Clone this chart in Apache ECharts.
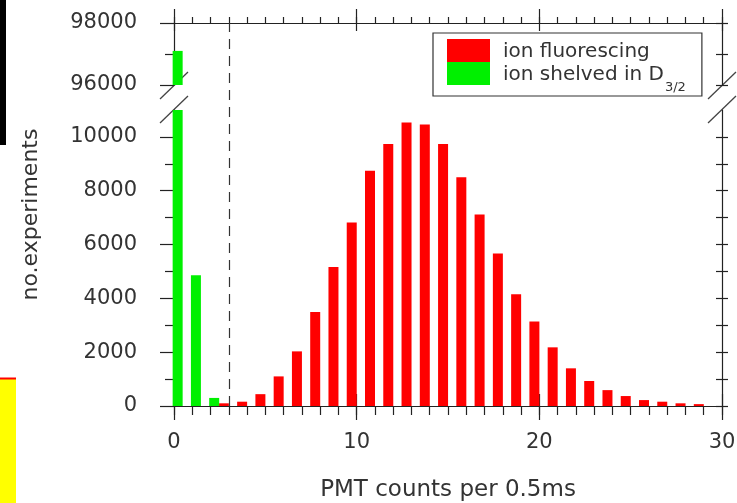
<!DOCTYPE html>
<html><head><meta charset="utf-8">
<script src="https://cdn.jsdelivr.net/npm/echarts@6/dist/echarts.min.js"></script>
<style>html,body{margin:0;padding:0;background:#fff}#c{width:737px;height:503px}</style>
</head><body><div id="c"></div>
<script>
// ---- data ----
const greenCounts = [0, 1, 2];
const greenValues = [97100, 4860, 300];
const redCounts = [2,3,4,5,6,7,8,9,10,11,12,13,14,15,16,17,18,19,20,21,22,23,24,25,26,27,28];
const redValues = [100,160,440,1100,2030,3490,5170,6820,8740,9740,10540,10460,9740,8500,7120,5670,4150,3140,2180,1400,930,590,370,220,160,100,70];
const xMajorTicks = [0, 10, 20, 30];
const lowerYLabels = [0, 2000, 4000, 6000, 8000, 10000];
const lowerYTicks = [0,1000,2000,3000,4000,5000,6000,7000,8000,9000,10000];
const upperYLabels = [96000, 98000];
const upperYTicks = [96000, 97000, 98000];
const thresholdX = 3;
const seriesNames = ['ion fluorescing', 'ion shelved in D3/2'];

// ---- layout ----
const L = 174, R = 15, TOP = 23, UPPER_H = 62, LOWER_TOP = 110, BOTTOM = 97;
const FONT = 'DejaVu Sans';
const TXT = '#333';
const AX = '#222';
const GREEN_OFF = 0.2, RED_OFF = 0.73;

const greenData = greenCounts.map((c, i) => [c + GREEN_OFF, greenValues[i]]);
const redData = redCounts.map((c, i) => [c + RED_OFF, redValues[i]]);

const lineStyle = { color: AX, width: 1.2 };
const plain = v => String(v);
function xAx(grid, pos, opts) {
  return Object.assign({
    type: 'value', gridIndex: grid, position: pos, min: 0, max: 30,
    axisLine: { show: false, onZero: false, lineStyle }, splitLine: { show: false },
    axisLabel: { show: false }, axisTick: { show: true, lineStyle }
  }, opts);
}
function yAx(grid, pos, min, max, opts) {
  return Object.assign({
    type: 'value', gridIndex: grid, position: pos, min, max,
    axisLine: { show: false, onZero: false, lineStyle }, splitLine: { show: false },
    axisLabel: { show: false }, axisTick: { show: true, lineStyle }
  }, opts);
}
const minorLower = lowerYTicks.filter(v => lowerYLabels.indexOf(v) < 0);
const minorUpper = upperYTicks.filter(v => upperYLabels.indexOf(v) < 0);
const shownLine = { show: true, onZero: false, lineStyle };

const chart = echarts.init(document.getElementById('c'), null, { renderer: 'canvas' });
const option = {
  backgroundColor: '#fff',
  animation: false,
  textStyle: { fontFamily: FONT },
  grid: [
    { left: L, right: R, top: TOP, height: UPPER_H, outerBoundsMode: 'none' },
    { left: L, right: R, top: LOWER_TOP, bottom: BOTTOM, outerBoundsMode: 'none' },
    { left: L, right: R, top: TOP, bottom: BOTTOM, outerBoundsMode: 'none' }
  ],
  legend: {
    data: seriesNames,
    orient: 'vertical',
    left: 433, top: 33,
    padding: [6, 16, 2, 14],
    itemGap: 0,
    itemWidth: 43, itemHeight: 23,
    icon: 'rect',
    borderColor: '#333', borderWidth: 1.2,
    selectedMode: false,
    formatter: n => n === seriesNames[1] ? '{n|ion shelved in D}{s|3/2}' : '{n|' + n + '}',
    textStyle: {
      color: TXT, fontFamily: FONT, fontSize: 20,
      rich: {
        n: { fontSize: 20, fontFamily: FONT, color: TXT, padding: [3, 0, 0, 8], lineHeight: 23 },
        s: { fontSize: 13, fontFamily: FONT, color: TXT, lineHeight: 13, padding: [14, 0, -14, 1] }
      }
    }
  },
  xAxis: [
    xAx(1, 'bottom', {
      interval: 10, axisLine: shownLine,
      axisTick: { show: true, length: 14, lineStyle },
      axisLabel: { show: true, color: TXT, fontSize: 21, fontFamily: FONT, margin: 26, formatter: plain },
      name: 'PMT counts per 0.5ms', nameLocation: 'middle', nameGap: 73,
      nameTextStyle: { color: TXT, fontSize: 23, fontFamily: FONT }
    }),
    xAx(1, 'bottom', { interval: 1, axisTick: { show: true, length: 9, lineStyle } }),
    xAx(1, 'bottom', { interval: 10, axisTick: { show: true, inside: true, length: 12, lineStyle } }),
    xAx(0, 'top', { interval: 10, axisLine: shownLine, axisTick: { show: true, length: 14, lineStyle } }),
    xAx(0, 'top', { interval: 1, axisTick: { show: true, length: 6, lineStyle } }),
    xAx(0, 'top', { interval: 10, axisTick: { show: true, inside: true, length: 8, lineStyle } }),
    { type: 'value', gridIndex: 2, min: 0, max: 30, show: false }
  ],
  yAxis: [
    yAx(1, 'left', 0, 11000, {
      axisLine: shownLine,
      axisTick: { show: true, length: 14, customValues: lowerYLabels, lineStyle },
      axisLabel: { show: true, customValues: lowerYLabels, color: TXT, fontSize: 21, fontFamily: FONT, margin: 37, formatter: plain }
    }),
    yAx(1, 'left', 0, 11000, { axisTick: { show: true, length: 9, customValues: minorLower, lineStyle } }),
    yAx(1, 'right', 0, 11000, { axisLine: shownLine, axisTick: { show: true, inside: true, length: 6, customValues: lowerYTicks, lineStyle } }),
    yAx(1, 'right', 0, 11000, { axisTick: { show: true, length: 6, customValues: lowerYTicks, lineStyle } }),
    yAx(0, 'left', 96000, 98000, {
      axisLine: shownLine,
      axisTick: { show: true, length: 14, customValues: upperYLabels, lineStyle },
      axisLabel: { show: true, customValues: upperYLabels, color: TXT, fontSize: 21, fontFamily: FONT, margin: 37, formatter: plain }
    }),
    yAx(0, 'left', 96000, 98000, { axisTick: { show: true, length: 9, customValues: minorUpper, lineStyle } }),
    yAx(0, 'right', 96000, 98000, { axisLine: shownLine, axisTick: { show: true, inside: true, length: 6, customValues: upperYTicks, lineStyle } }),
    yAx(0, 'right', 96000, 98000, { axisTick: { show: true, length: 6, customValues: upperYTicks, lineStyle } }),
    {
      type: 'value', gridIndex: 2, min: 0, max: 1, position: 'left',
      axisLine: { show: false }, axisTick: { show: false }, axisLabel: { show: false }, splitLine: { show: false },
      name: 'no.experiments', nameLocation: 'middle', nameGap: 132,
      nameTextStyle: { color: TXT, fontSize: 22, fontFamily: FONT }
    }
  ],
  series: [
    { name: seriesNames[0], type: 'bar', xAxisIndex: 0, yAxisIndex: 0, data: redData,
      barWidth: 10, barGap: '-100%', itemStyle: { color: '#ff0000' }, clip: true },
    { name: seriesNames[1], type: 'bar', xAxisIndex: 0, yAxisIndex: 0, data: greenData,
      barWidth: 10, barGap: '-100%', itemStyle: { color: '#00f000' }, clip: true },
    { name: seriesNames[1], type: 'bar', xAxisIndex: 3, yAxisIndex: 4, data: greenData,
      barWidth: 10, barGap: '-100%', itemStyle: { color: '#00f000' }, clip: true },
    { type: 'scatter', xAxisIndex: 6, yAxisIndex: 8, data: [], silent: true,
      markLine: { symbol: 'none', silent: true, label: { show: false },
        lineStyle: { type: [10, 7], color: '#333', width: 1.2 },
        data: [{ xAxis: thresholdX }] } }
  ]
};
chart.setOption(option);

// break marks and page-edge artefacts
const W = 737, H = 503;
const upperBottom = TOP + UPPER_H + 1, lowerTop = LOWER_TOP;
const rightX = W - R;
function slash(x, y) {
  return { type: 'line', silent: true, shape: { x1: x - 14, y1: y + 13, x2: x + 14, y2: y - 14 },
    style: { stroke: '#444', lineWidth: 1.3 } };
}
chart.setOption({
  graphic: [
    slash(L, upperBottom), slash(L, lowerTop), slash(rightX, upperBottom), slash(rightX, lowerTop),
    { type: 'rect', silent: true, shape: { x: 0, y: 0, width: 6, height: 145 }, style: { fill: '#000' } },
    { type: 'rect', silent: true, shape: { x: 0, y: 379, width: 16, height: 124 }, style: { fill: '#ffff00' } },
    { type: 'rect', silent: true, shape: { x: 0, y: 377.5, width: 16, height: 2 }, style: { fill: '#ff0000' } }
  ]
});
</script></body></html>
